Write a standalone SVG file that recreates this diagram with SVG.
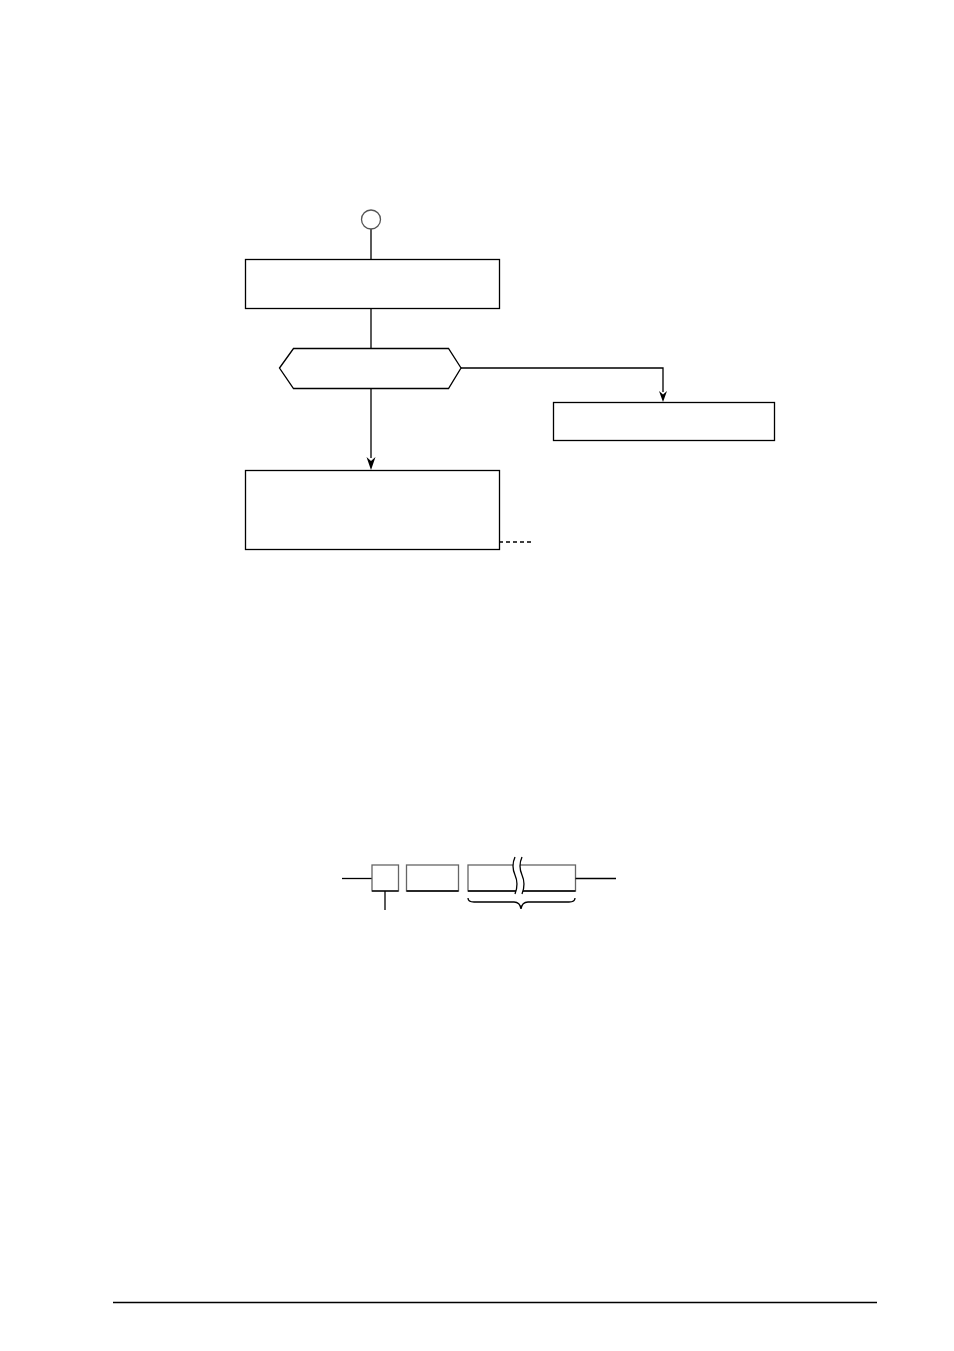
<svg xmlns="http://www.w3.org/2000/svg" width="954" height="1351" viewBox="0 0 954 1351">
<style>
.n{fill:#fff;stroke:#000;stroke-width:1.3}
.g{fill:#fff;stroke:#555;stroke-width:1.3}
.c{fill:none;stroke:#000;stroke-width:1.3}
.f{fill:#fff;stroke:#666;stroke-width:1.3}
.b{stroke:#000;stroke-width:1.3}
.h{fill:#000}
</style>
<rect width="954" height="1351" fill="#fff"/>
<g id="connectors">
<line class="c" x1="371" y1="229" x2="371" y2="259"/>
<line class="c" x1="371" y1="308" x2="371" y2="348"/>
<path class="c" d="M371,388 V458"/>
<path class="h" d="M366.5,457 L371,470 L375.5,457 L371,461 Z"/>
<path class="c" d="M461,368 H663 V392"/>
<path class="h" d="M659,391 L663,402 L667,391 L663,394.5 Z"/>
<line class="c" x1="499" y1="542" x2="533" y2="542" stroke-dasharray="4,3"/>
</g>
<g id="start"><circle class="g" cx="371" cy="219.5" r="9.5"/></g>
<g id="box1"><rect class="n" x="245.5" y="259.5" width="254" height="49"/></g>
<g id="decision"><polygon class="n" points="279.5,368 293.5,348.5 448.5,348.5 461,368 448.5,388.5 293.5,388.5"/></g>
<g id="box2"><rect class="n" x="553.5" y="402.5" width="221" height="38"/></g>
<g id="box3"><rect class="n" x="245.5" y="470.5" width="254" height="79"/></g>
<g id="format">
<line class="c" x1="342" y1="878.5" x2="372" y2="878.5"/>
<rect class="f" x="372" y="865" width="26.5" height="26"/>
<path class="b" d="M372,891 H398.5"/>
<line class="c" x1="385" y1="891" x2="385" y2="910"/>
<rect class="f" x="406.5" y="865" width="52" height="26"/>
<path class="b" d="M406.5,891 H458.5"/>
<rect class="f" x="468" y="865" width="107.5" height="26"/>
<path class="b" d="M468,891 H575.5"/>
<path d="M515,857 q-4,9 0,18 q4,9 0,19 h7 q4,-10 0,-19 q-4,-9 0,-18 Z" fill="#fff" stroke="none"/>
<path class="c" d="M515,857 q-4,9 0,18 q4,9 0,19"/>
<path class="c" d="M522,857 q-4,9 0,18 q4,9 0,19"/>
<line class="c" x1="575.5" y1="878.5" x2="616" y2="878.5"/>
<path class="c" d="M468,898 q0,4 6,4 H514 q6,0 7,7 q1,-7 7,-7 H569 q6,0 6,-4"/>
</g>
<line x1="113" y1="1302.5" x2="877" y2="1302.5" stroke="#000" stroke-width="1.3"/>
</svg>
